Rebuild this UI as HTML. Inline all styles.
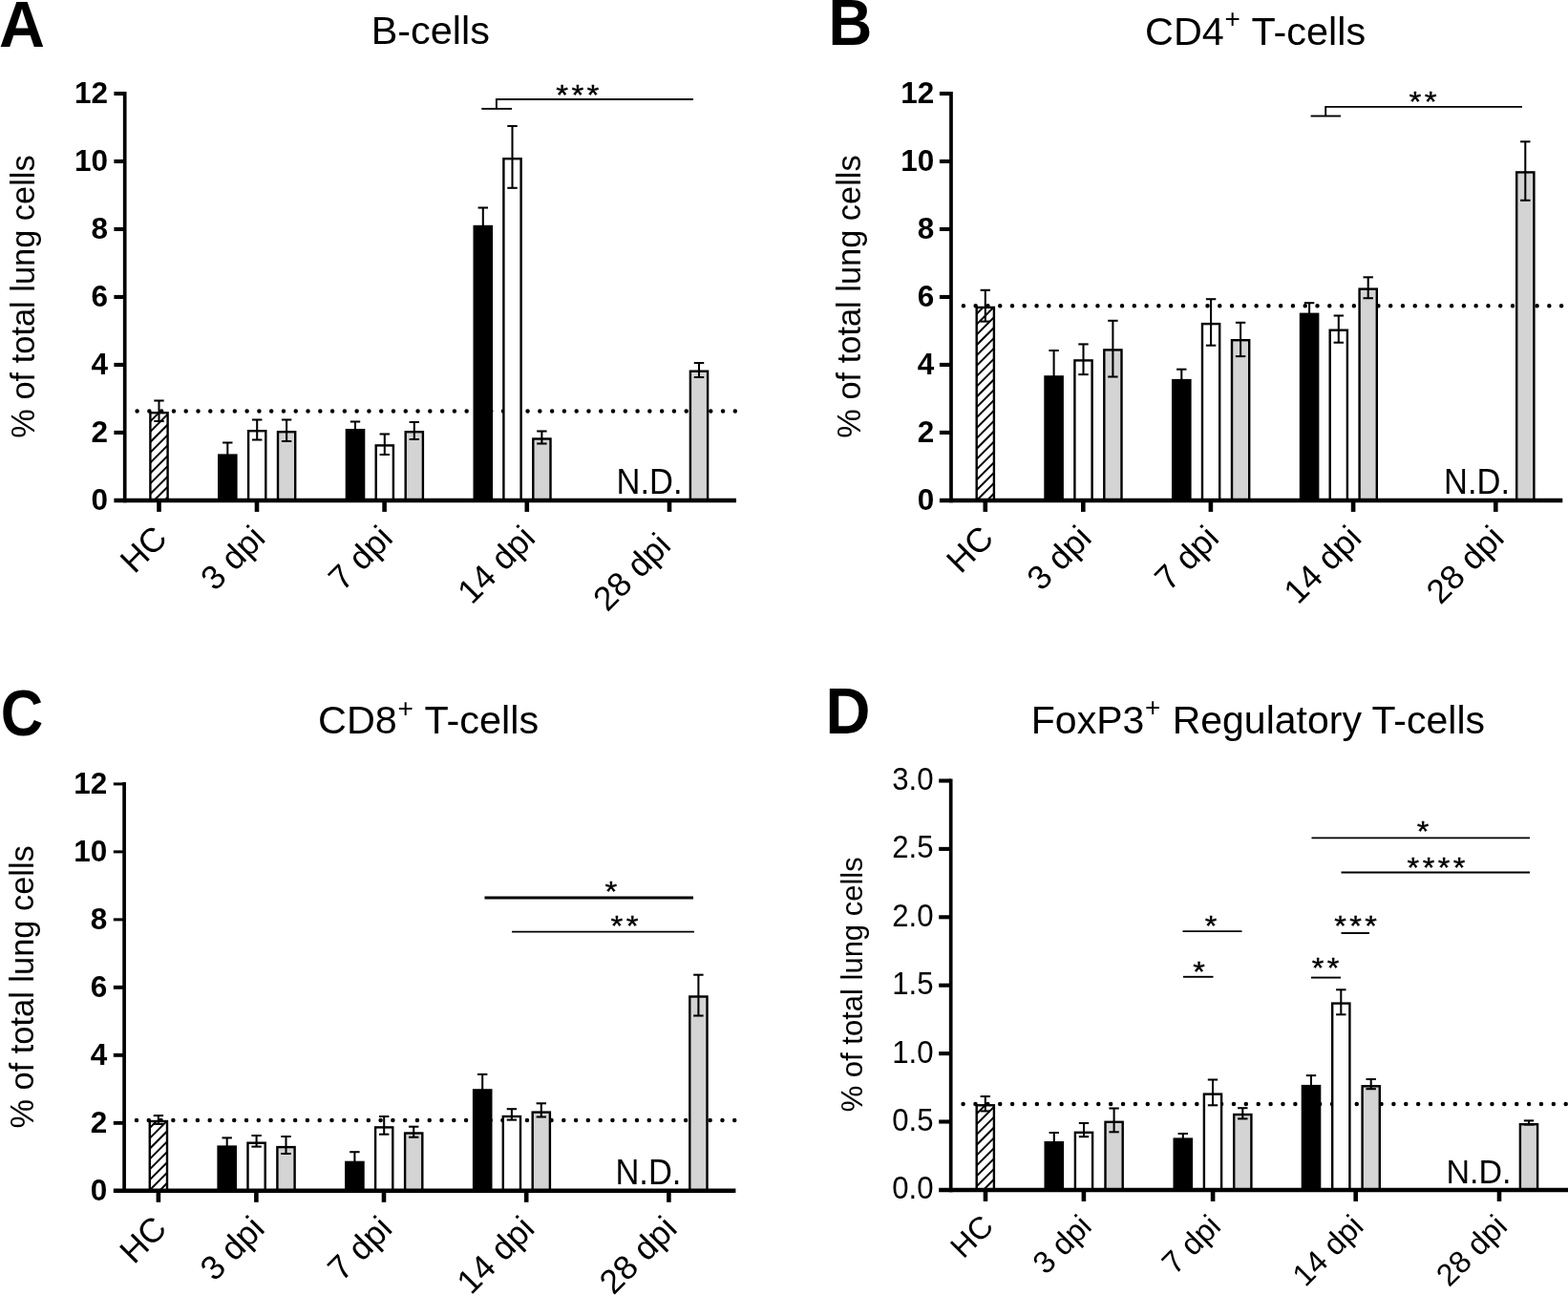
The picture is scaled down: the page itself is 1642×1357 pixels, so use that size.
<!DOCTYPE html>
<html lang="en">
<head>
<meta charset="utf-8">
<title>Lung lymphocyte populations</title>
<style>
html,body{margin:0;padding:0;background:#fff;}
body{width:1642px;height:1357px;overflow:hidden;}
svg{display:block;font-family:"Liberation Sans", sans-serif;fill:#000;}
</style>
</head>
<body>
<svg width="1642" height="1357" viewBox="0 0 1642 1357">
<defs>
<clipPath id="clipA"><rect x="157.4" y="432.2" width="18.2" height="91.7"/></clipPath>
<clipPath id="clipB"><rect x="1022.7" y="321.9" width="18.2" height="202"/></clipPath>
<clipPath id="clipC"><rect x="156.8" y="1174" width="18.2" height="72.8"/></clipPath>
<clipPath id="clipD"><rect x="1022.7" y="1157.3" width="18.2" height="88.6"/></clipPath>
</defs>
<rect x="0" y="0" width="1642" height="1357" fill="#fff"/>
<g id="panel-A">
<line x1="143.6" y1="430.4" x2="771.2" y2="430.4" stroke="#000" stroke-width="4.5" stroke-linecap="round" stroke-dasharray="0 12.78"/>
<rect x="157.4" y="432.2" width="18.2" height="91.7" fill="#fff" stroke="#000" stroke-width="2.4"/>
<path d="M154.2 411.8L178.8 387.2M154.2 422.65L178.8 398.05M154.2 433.5L178.8 408.9M154.2 444.35L178.8 419.75M154.2 455.2L178.8 430.6M154.2 466.05L178.8 441.45M154.2 476.9L178.8 452.3M154.2 487.75L178.8 463.15M154.2 498.6L178.8 474M154.2 509.45L178.8 484.85M154.2 520.3L178.8 495.7M154.2 531.15L178.8 506.55M154.2 542L178.8 517.4M154.2 552.85L178.8 528.25M154.2 563.7L178.8 539.1" clip-path="url(#clipA)" fill="none" stroke="#000" stroke-width="2"/>
<line x1="166.5" y1="419.5" x2="166.5" y2="441" stroke="#000" stroke-width="2.05"/>
<line x1="161.3" y1="419.5" x2="171.7" y2="419.5" stroke="#000" stroke-width="2.05"/>
<line x1="161.3" y1="441" x2="171.7" y2="441" stroke="#000" stroke-width="2.05"/>
<rect x="228" y="475.4" width="20.6" height="48.5" fill="#000"/>
<line x1="238.3" y1="463.5" x2="238.3" y2="476.4" stroke="#000" stroke-width="2.05"/>
<line x1="233.1" y1="463.5" x2="243.5" y2="463.5" stroke="#000" stroke-width="2.05"/>
<rect x="260.1" y="451.2" width="18.2" height="72.7" fill="#fff" stroke="#000" stroke-width="2.4"/>
<line x1="269.2" y1="439.5" x2="269.2" y2="460.5" stroke="#000" stroke-width="2.05"/>
<line x1="264" y1="439.5" x2="274.4" y2="439.5" stroke="#000" stroke-width="2.05"/>
<line x1="264" y1="460.5" x2="274.4" y2="460.5" stroke="#000" stroke-width="2.05"/>
<rect x="291" y="452.2" width="18.2" height="71.7" fill="#d4d4d4" stroke="#000" stroke-width="2.4"/>
<line x1="300.1" y1="439.5" x2="300.1" y2="462" stroke="#000" stroke-width="2.05"/>
<line x1="294.9" y1="439.5" x2="305.3" y2="439.5" stroke="#000" stroke-width="2.05"/>
<line x1="294.9" y1="462" x2="305.3" y2="462" stroke="#000" stroke-width="2.05"/>
<rect x="361.7" y="449" width="20.6" height="74.9" fill="#000"/>
<line x1="372" y1="441.5" x2="372" y2="450" stroke="#000" stroke-width="2.05"/>
<line x1="366.8" y1="441.5" x2="377.2" y2="441.5" stroke="#000" stroke-width="2.05"/>
<rect x="393.7" y="466.4" width="18.2" height="57.5" fill="#fff" stroke="#000" stroke-width="2.4"/>
<line x1="402.8" y1="454.5" x2="402.8" y2="476" stroke="#000" stroke-width="2.05"/>
<line x1="397.6" y1="454.5" x2="408" y2="454.5" stroke="#000" stroke-width="2.05"/>
<line x1="397.6" y1="476" x2="408" y2="476" stroke="#000" stroke-width="2.05"/>
<rect x="424.7" y="452.2" width="18.2" height="71.7" fill="#d4d4d4" stroke="#000" stroke-width="2.4"/>
<line x1="433.8" y1="442" x2="433.8" y2="460" stroke="#000" stroke-width="2.05"/>
<line x1="428.6" y1="442" x2="439" y2="442" stroke="#000" stroke-width="2.05"/>
<line x1="428.6" y1="460" x2="439" y2="460" stroke="#000" stroke-width="2.05"/>
<rect x="495.5" y="235.8" width="20.6" height="288.1" fill="#000"/>
<line x1="505.8" y1="217.5" x2="505.8" y2="236.8" stroke="#000" stroke-width="2.05"/>
<line x1="500.6" y1="217.5" x2="511" y2="217.5" stroke="#000" stroke-width="2.05"/>
<rect x="527.4" y="166.2" width="18.2" height="357.7" fill="#fff" stroke="#000" stroke-width="2.4"/>
<line x1="536.5" y1="132" x2="536.5" y2="196.8" stroke="#000" stroke-width="2.05"/>
<line x1="531.3" y1="132" x2="541.7" y2="132" stroke="#000" stroke-width="2.05"/>
<line x1="531.3" y1="196.8" x2="541.7" y2="196.8" stroke="#000" stroke-width="2.05"/>
<rect x="558.3" y="459.5" width="18.2" height="64.4" fill="#d4d4d4" stroke="#000" stroke-width="2.4"/>
<line x1="567.4" y1="451.5" x2="567.4" y2="464.5" stroke="#000" stroke-width="2.05"/>
<line x1="562.2" y1="451.5" x2="572.6" y2="451.5" stroke="#000" stroke-width="2.05"/>
<line x1="562.2" y1="464.5" x2="572.6" y2="464.5" stroke="#000" stroke-width="2.05"/>
<rect x="722.9" y="388.7" width="18.2" height="135.2" fill="#d4d4d4" stroke="#000" stroke-width="2.4"/>
<line x1="732" y1="380" x2="732" y2="395" stroke="#000" stroke-width="2.05"/>
<line x1="726.8" y1="380" x2="737.2" y2="380" stroke="#000" stroke-width="2.05"/>
<line x1="726.8" y1="395" x2="737.2" y2="395" stroke="#000" stroke-width="2.05"/>
<line x1="130.7" y1="95.95" x2="130.7" y2="526.15" stroke="#000" stroke-width="3.7"/>
<line x1="119.4" y1="523.9" x2="771" y2="523.9" stroke="#000" stroke-width="4.5"/>
<text x="113" y="534.2" font-size="31.5" text-anchor="end" font-weight="bold">0</text>
<line x1="119.4" y1="452.92" x2="130.7" y2="452.92" stroke="#000" stroke-width="4.1"/>
<text x="113" y="463.22" font-size="31.5" text-anchor="end" font-weight="bold">2</text>
<line x1="119.4" y1="381.93" x2="130.7" y2="381.93" stroke="#000" stroke-width="4.1"/>
<text x="113" y="392.23" font-size="31.5" text-anchor="end" font-weight="bold">4</text>
<line x1="119.4" y1="310.95" x2="130.7" y2="310.95" stroke="#000" stroke-width="4.1"/>
<text x="113" y="321.25" font-size="31.5" text-anchor="end" font-weight="bold">6</text>
<line x1="119.4" y1="239.97" x2="130.7" y2="239.97" stroke="#000" stroke-width="4.1"/>
<text x="113" y="250.27" font-size="31.5" text-anchor="end" font-weight="bold">8</text>
<line x1="119.4" y1="168.98" x2="130.7" y2="168.98" stroke="#000" stroke-width="4.1"/>
<text x="113" y="179.28" font-size="31.5" text-anchor="end" font-weight="bold">10</text>
<line x1="119.4" y1="98" x2="130.7" y2="98" stroke="#000" stroke-width="4.1"/>
<text x="113" y="108.3" font-size="31.5" text-anchor="end" font-weight="bold">12</text>
<line x1="166.5" y1="523.9" x2="166.5" y2="535.9" stroke="#000" stroke-width="4.6"/>
<text transform="translate(177 565.5) rotate(-45)" font-size="35.5" text-anchor="end">HC</text>
<line x1="269" y1="523.9" x2="269" y2="535.9" stroke="#000" stroke-width="4.6"/>
<text transform="translate(279.5 565.5) rotate(-45)" font-size="35.5" text-anchor="end">3 dpi</text>
<line x1="402.6" y1="523.9" x2="402.6" y2="535.9" stroke="#000" stroke-width="4.6"/>
<text transform="translate(413.1 565.5) rotate(-45)" font-size="35.5" text-anchor="end">7 dpi</text>
<line x1="551.8" y1="523.9" x2="551.8" y2="535.9" stroke="#000" stroke-width="4.6"/>
<text transform="translate(562.3 565.5) rotate(-45)" font-size="35.5" text-anchor="end">14 dpi</text>
<line x1="701" y1="523.9" x2="701" y2="535.9" stroke="#000" stroke-width="4.6"/>
<text transform="translate(704.4 573.1) rotate(-45)" font-size="35.5" text-anchor="end">28 dpi</text>
<text transform="translate(645.6 517.3) scale(1 1.05)" font-size="34.5">N.D.</text>
<text transform="translate(35.5 310.5) rotate(-90)" font-size="34.4" text-anchor="middle">% of total lung cells</text>
<text x="388.7" y="45.9" font-size="41.4">B-cells</text>
<text transform="translate(-1 49.3) scale(0.977 1)" font-size="68" font-weight="bold">A</text>
<polyline points="726,104 519.9,104 519.9,113.9" fill="none" stroke="#000" stroke-width="1.9"/>
<line x1="504.3" y1="113.9" x2="536" y2="113.9" stroke="#000" stroke-width="1.9"/>
<text transform="translate(606.5 109.2) scale(1 0.9)" font-size="33" text-anchor="middle" letter-spacing="3.4" stroke="#000" stroke-width="0.4">***</text>
</g>
<g id="panel-B">
<line x1="1008.9" y1="320.2" x2="1636.5" y2="320.2" stroke="#000" stroke-width="4.5" stroke-linecap="round" stroke-dasharray="0 12.78"/>
<rect x="1022.7" y="321.9" width="18.2" height="202" fill="#fff" stroke="#000" stroke-width="2.4"/>
<path d="M1019.5 299.4L1044.1 274.8M1019.5 310.25L1044.1 285.65M1019.5 321.1L1044.1 296.5M1019.5 331.95L1044.1 307.35M1019.5 342.8L1044.1 318.2M1019.5 353.65L1044.1 329.05M1019.5 364.5L1044.1 339.9M1019.5 375.35L1044.1 350.75M1019.5 386.2L1044.1 361.6M1019.5 397.05L1044.1 372.45M1019.5 407.9L1044.1 383.3M1019.5 418.75L1044.1 394.15M1019.5 429.6L1044.1 405M1019.5 440.45L1044.1 415.85M1019.5 451.3L1044.1 426.7M1019.5 462.15L1044.1 437.55M1019.5 473L1044.1 448.4M1019.5 483.85L1044.1 459.25M1019.5 494.7L1044.1 470.1M1019.5 505.55L1044.1 480.95M1019.5 516.4L1044.1 491.8M1019.5 527.25L1044.1 502.65M1019.5 538.1L1044.1 513.5M1019.5 548.95L1044.1 524.35M1019.5 559.8L1044.1 535.2" clip-path="url(#clipB)" fill="none" stroke="#000" stroke-width="2"/>
<line x1="1031.8" y1="303.8" x2="1031.8" y2="336.6" stroke="#000" stroke-width="2.05"/>
<line x1="1026.6" y1="303.8" x2="1037" y2="303.8" stroke="#000" stroke-width="2.05"/>
<line x1="1026.6" y1="336.6" x2="1037" y2="336.6" stroke="#000" stroke-width="2.05"/>
<rect x="1093.3" y="393.2" width="20.6" height="130.7" fill="#000"/>
<line x1="1103.6" y1="367" x2="1103.6" y2="394.2" stroke="#000" stroke-width="2.05"/>
<line x1="1098.4" y1="367" x2="1108.8" y2="367" stroke="#000" stroke-width="2.05"/>
<rect x="1125.4" y="377.4" width="18.2" height="146.5" fill="#fff" stroke="#000" stroke-width="2.4"/>
<line x1="1134.5" y1="360.4" x2="1134.5" y2="392.1" stroke="#000" stroke-width="2.05"/>
<line x1="1129.3" y1="360.4" x2="1139.7" y2="360.4" stroke="#000" stroke-width="2.05"/>
<line x1="1129.3" y1="392.1" x2="1139.7" y2="392.1" stroke="#000" stroke-width="2.05"/>
<rect x="1156.3" y="366.4" width="18.2" height="157.5" fill="#d4d4d4" stroke="#000" stroke-width="2.4"/>
<line x1="1165.4" y1="335.8" x2="1165.4" y2="394.5" stroke="#000" stroke-width="2.05"/>
<line x1="1160.2" y1="335.8" x2="1170.6" y2="335.8" stroke="#000" stroke-width="2.05"/>
<line x1="1160.2" y1="394.5" x2="1170.6" y2="394.5" stroke="#000" stroke-width="2.05"/>
<rect x="1227" y="396.9" width="20.6" height="127" fill="#000"/>
<line x1="1237.3" y1="386.7" x2="1237.3" y2="397.9" stroke="#000" stroke-width="2.05"/>
<line x1="1232.1" y1="386.7" x2="1242.5" y2="386.7" stroke="#000" stroke-width="2.05"/>
<rect x="1259" y="339.1" width="18.2" height="184.8" fill="#fff" stroke="#000" stroke-width="2.4"/>
<line x1="1268.1" y1="313.2" x2="1268.1" y2="361.7" stroke="#000" stroke-width="2.05"/>
<line x1="1262.9" y1="313.2" x2="1273.3" y2="313.2" stroke="#000" stroke-width="2.05"/>
<line x1="1262.9" y1="361.7" x2="1273.3" y2="361.7" stroke="#000" stroke-width="2.05"/>
<rect x="1290" y="356.2" width="18.2" height="167.7" fill="#d4d4d4" stroke="#000" stroke-width="2.4"/>
<line x1="1299.1" y1="337.8" x2="1299.1" y2="373.1" stroke="#000" stroke-width="2.05"/>
<line x1="1293.9" y1="337.8" x2="1304.3" y2="337.8" stroke="#000" stroke-width="2.05"/>
<line x1="1293.9" y1="373.1" x2="1304.3" y2="373.1" stroke="#000" stroke-width="2.05"/>
<rect x="1360.8" y="327.6" width="20.6" height="196.3" fill="#000"/>
<line x1="1371.1" y1="317.2" x2="1371.1" y2="328.6" stroke="#000" stroke-width="2.05"/>
<line x1="1365.9" y1="317.2" x2="1376.3" y2="317.2" stroke="#000" stroke-width="2.05"/>
<rect x="1392.7" y="345.7" width="18.2" height="178.2" fill="#fff" stroke="#000" stroke-width="2.4"/>
<line x1="1401.8" y1="330.5" x2="1401.8" y2="358.7" stroke="#000" stroke-width="2.05"/>
<line x1="1396.6" y1="330.5" x2="1407" y2="330.5" stroke="#000" stroke-width="2.05"/>
<line x1="1396.6" y1="358.7" x2="1407" y2="358.7" stroke="#000" stroke-width="2.05"/>
<rect x="1423.6" y="302.6" width="18.2" height="221.3" fill="#d4d4d4" stroke="#000" stroke-width="2.4"/>
<line x1="1432.7" y1="290.3" x2="1432.7" y2="312.2" stroke="#000" stroke-width="2.05"/>
<line x1="1427.5" y1="290.3" x2="1437.9" y2="290.3" stroke="#000" stroke-width="2.05"/>
<line x1="1427.5" y1="312.2" x2="1437.9" y2="312.2" stroke="#000" stroke-width="2.05"/>
<rect x="1588.2" y="180.4" width="18.2" height="343.5" fill="#d4d4d4" stroke="#000" stroke-width="2.4"/>
<line x1="1597.3" y1="148.3" x2="1597.3" y2="209.8" stroke="#000" stroke-width="2.05"/>
<line x1="1592.1" y1="148.3" x2="1602.5" y2="148.3" stroke="#000" stroke-width="2.05"/>
<line x1="1592.1" y1="209.8" x2="1602.5" y2="209.8" stroke="#000" stroke-width="2.05"/>
<line x1="996" y1="95.95" x2="996" y2="526.15" stroke="#000" stroke-width="3.7"/>
<line x1="983.9" y1="523.9" x2="1636.3" y2="523.9" stroke="#000" stroke-width="4.5"/>
<text x="978.3" y="534.2" font-size="31.5" text-anchor="end" font-weight="bold">0</text>
<line x1="983.9" y1="452.92" x2="996" y2="452.92" stroke="#000" stroke-width="4.1"/>
<text x="978.3" y="463.22" font-size="31.5" text-anchor="end" font-weight="bold">2</text>
<line x1="983.9" y1="381.93" x2="996" y2="381.93" stroke="#000" stroke-width="4.1"/>
<text x="978.3" y="392.23" font-size="31.5" text-anchor="end" font-weight="bold">4</text>
<line x1="983.9" y1="310.95" x2="996" y2="310.95" stroke="#000" stroke-width="4.1"/>
<text x="978.3" y="321.25" font-size="31.5" text-anchor="end" font-weight="bold">6</text>
<line x1="983.9" y1="239.97" x2="996" y2="239.97" stroke="#000" stroke-width="4.1"/>
<text x="978.3" y="250.27" font-size="31.5" text-anchor="end" font-weight="bold">8</text>
<line x1="983.9" y1="168.98" x2="996" y2="168.98" stroke="#000" stroke-width="4.1"/>
<text x="978.3" y="179.28" font-size="31.5" text-anchor="end" font-weight="bold">10</text>
<line x1="983.9" y1="98" x2="996" y2="98" stroke="#000" stroke-width="4.1"/>
<text x="978.3" y="108.3" font-size="31.5" text-anchor="end" font-weight="bold">12</text>
<line x1="1031.8" y1="523.9" x2="1031.8" y2="535.9" stroke="#000" stroke-width="4.6"/>
<text transform="translate(1042.3 565.5) rotate(-45)" font-size="35.5" text-anchor="end">HC</text>
<line x1="1134.3" y1="523.9" x2="1134.3" y2="535.9" stroke="#000" stroke-width="4.6"/>
<text transform="translate(1144.8 565.5) rotate(-45)" font-size="35.5" text-anchor="end">3 dpi</text>
<line x1="1267.9" y1="523.9" x2="1267.9" y2="535.9" stroke="#000" stroke-width="4.6"/>
<text transform="translate(1278.4 565.5) rotate(-45)" font-size="35.5" text-anchor="end">7 dpi</text>
<line x1="1417.1" y1="523.9" x2="1417.1" y2="535.9" stroke="#000" stroke-width="4.6"/>
<text transform="translate(1427.6 565.5) rotate(-45)" font-size="35.5" text-anchor="end">14 dpi</text>
<line x1="1566.3" y1="523.9" x2="1566.3" y2="535.9" stroke="#000" stroke-width="4.6"/>
<text transform="translate(1576.8 565.5) rotate(-45)" font-size="35.5" text-anchor="end">28 dpi</text>
<text transform="translate(1512.1 517.3) scale(1 1.05)" font-size="34.5">N.D.</text>
<text transform="translate(900.8 310.5) rotate(-90)" font-size="34.4" text-anchor="middle">% of total lung cells</text>
<text x="1199" y="46.7" font-size="41.4">CD4<tspan font-size="28" dy="-17.5" dx="0.8">+</tspan><tspan dy="17.5" dx="0.8"> </tspan>T-cells</text>
<text transform="translate(867.5 47) scale(0.933 1)" font-size="68" font-weight="bold">B</text>
<polyline points="1594,111.9 1388.2,111.9 1388.2,121.5" fill="none" stroke="#000" stroke-width="1.9"/>
<line x1="1372.6" y1="121.5" x2="1404" y2="121.5" stroke="#000" stroke-width="1.9"/>
<text transform="translate(1491.7 115.9) scale(1 0.9)" font-size="33" text-anchor="middle" letter-spacing="3.4" stroke="#000" stroke-width="0.4">**</text>
</g>
<g id="panel-C">
<line x1="143" y1="1173.1" x2="770.6" y2="1173.1" stroke="#000" stroke-width="4.5" stroke-linecap="round" stroke-dasharray="0 12.78"/>
<rect x="156.8" y="1174" width="18.2" height="72.8" fill="#fff" stroke="#000" stroke-width="2.4"/>
<path d="M153.6 1151.65L178.2 1127.05M153.6 1162.5L178.2 1137.9M153.6 1173.35L178.2 1148.75M153.6 1184.2L178.2 1159.6M153.6 1195.05L178.2 1170.45M153.6 1205.9L178.2 1181.3M153.6 1216.75L178.2 1192.15M153.6 1227.6L178.2 1203M153.6 1238.45L178.2 1213.85M153.6 1249.3L178.2 1224.7M153.6 1260.15L178.2 1235.55M153.6 1271L178.2 1246.4M153.6 1281.85L178.2 1257.25M153.6 1292.7L178.2 1268.1" clip-path="url(#clipC)" fill="none" stroke="#000" stroke-width="2"/>
<line x1="165.9" y1="1168.1" x2="165.9" y2="1176.9" stroke="#000" stroke-width="2.05"/>
<line x1="160.7" y1="1168.1" x2="171.1" y2="1168.1" stroke="#000" stroke-width="2.05"/>
<line x1="160.7" y1="1176.9" x2="171.1" y2="1176.9" stroke="#000" stroke-width="2.05"/>
<rect x="227.4" y="1199.4" width="20.6" height="47.4" fill="#000"/>
<line x1="237.7" y1="1191.4" x2="237.7" y2="1200.4" stroke="#000" stroke-width="2.05"/>
<line x1="232.5" y1="1191.4" x2="242.9" y2="1191.4" stroke="#000" stroke-width="2.05"/>
<rect x="259.5" y="1196.7" width="18.2" height="50.1" fill="#fff" stroke="#000" stroke-width="2.4"/>
<line x1="268.6" y1="1189" x2="268.6" y2="1200.6" stroke="#000" stroke-width="2.05"/>
<line x1="263.4" y1="1189" x2="273.8" y2="1189" stroke="#000" stroke-width="2.05"/>
<line x1="263.4" y1="1200.6" x2="273.8" y2="1200.6" stroke="#000" stroke-width="2.05"/>
<rect x="290.4" y="1201.1" width="18.2" height="45.7" fill="#d4d4d4" stroke="#000" stroke-width="2.4"/>
<line x1="299.5" y1="1190" x2="299.5" y2="1208" stroke="#000" stroke-width="2.05"/>
<line x1="294.3" y1="1190" x2="304.7" y2="1190" stroke="#000" stroke-width="2.05"/>
<line x1="294.3" y1="1208" x2="304.7" y2="1208" stroke="#000" stroke-width="2.05"/>
<rect x="361.1" y="1215.7" width="20.6" height="31.1" fill="#000"/>
<line x1="371.4" y1="1206.2" x2="371.4" y2="1216.7" stroke="#000" stroke-width="2.05"/>
<line x1="366.2" y1="1206.2" x2="376.6" y2="1206.2" stroke="#000" stroke-width="2.05"/>
<rect x="393.1" y="1180.4" width="18.2" height="66.4" fill="#fff" stroke="#000" stroke-width="2.4"/>
<line x1="402.2" y1="1169" x2="402.2" y2="1187.7" stroke="#000" stroke-width="2.05"/>
<line x1="397" y1="1169" x2="407.4" y2="1169" stroke="#000" stroke-width="2.05"/>
<line x1="397" y1="1187.7" x2="407.4" y2="1187.7" stroke="#000" stroke-width="2.05"/>
<rect x="424.1" y="1186.5" width="18.2" height="60.3" fill="#d4d4d4" stroke="#000" stroke-width="2.4"/>
<line x1="433.2" y1="1179.7" x2="433.2" y2="1190.7" stroke="#000" stroke-width="2.05"/>
<line x1="428" y1="1179.7" x2="438.4" y2="1179.7" stroke="#000" stroke-width="2.05"/>
<line x1="428" y1="1190.7" x2="438.4" y2="1190.7" stroke="#000" stroke-width="2.05"/>
<rect x="494.9" y="1140.2" width="20.6" height="106.6" fill="#000"/>
<line x1="505.2" y1="1124.9" x2="505.2" y2="1141.2" stroke="#000" stroke-width="2.05"/>
<line x1="500" y1="1124.9" x2="510.4" y2="1124.9" stroke="#000" stroke-width="2.05"/>
<rect x="526.8" y="1169" width="18.2" height="77.8" fill="#fff" stroke="#000" stroke-width="2.4"/>
<line x1="535.9" y1="1161.2" x2="535.9" y2="1172.6" stroke="#000" stroke-width="2.05"/>
<line x1="530.7" y1="1161.2" x2="541.1" y2="1161.2" stroke="#000" stroke-width="2.05"/>
<line x1="530.7" y1="1172.6" x2="541.1" y2="1172.6" stroke="#000" stroke-width="2.05"/>
<rect x="557.7" y="1164.6" width="18.2" height="82.2" fill="#d4d4d4" stroke="#000" stroke-width="2.4"/>
<line x1="566.8" y1="1155.3" x2="566.8" y2="1169.5" stroke="#000" stroke-width="2.05"/>
<line x1="561.6" y1="1155.3" x2="572" y2="1155.3" stroke="#000" stroke-width="2.05"/>
<line x1="561.6" y1="1169.5" x2="572" y2="1169.5" stroke="#000" stroke-width="2.05"/>
<rect x="722.3" y="1043.5" width="18.2" height="203.3" fill="#d4d4d4" stroke="#000" stroke-width="2.4"/>
<line x1="731.4" y1="1020.7" x2="731.4" y2="1063.5" stroke="#000" stroke-width="2.05"/>
<line x1="726.2" y1="1020.7" x2="736.6" y2="1020.7" stroke="#000" stroke-width="2.05"/>
<line x1="726.2" y1="1063.5" x2="736.6" y2="1063.5" stroke="#000" stroke-width="2.05"/>
<line x1="130.1" y1="818.95" x2="130.1" y2="1249.05" stroke="#000" stroke-width="3.7"/>
<line x1="118.8" y1="1246.8" x2="770.4" y2="1246.8" stroke="#000" stroke-width="4.5"/>
<text x="112.4" y="1257.1" font-size="31.5" text-anchor="end" font-weight="bold">0</text>
<line x1="118.8" y1="1175.82" x2="130.1" y2="1175.82" stroke="#000" stroke-width="3.9"/>
<text x="112.4" y="1186.12" font-size="31.5" text-anchor="end" font-weight="bold">2</text>
<line x1="118.8" y1="1104.83" x2="130.1" y2="1104.83" stroke="#000" stroke-width="3.9"/>
<text x="112.4" y="1115.13" font-size="31.5" text-anchor="end" font-weight="bold">4</text>
<line x1="118.8" y1="1033.85" x2="130.1" y2="1033.85" stroke="#000" stroke-width="3.9"/>
<text x="112.4" y="1044.15" font-size="31.5" text-anchor="end" font-weight="bold">6</text>
<line x1="118.8" y1="962.87" x2="130.1" y2="962.87" stroke="#000" stroke-width="3"/>
<text x="112.4" y="973.17" font-size="31.5" text-anchor="end" font-weight="bold">8</text>
<line x1="118.8" y1="891.88" x2="130.1" y2="891.88" stroke="#000" stroke-width="3"/>
<text x="112.4" y="902.18" font-size="31.5" text-anchor="end" font-weight="bold">10</text>
<line x1="118.8" y1="820.9" x2="130.1" y2="820.9" stroke="#000" stroke-width="3"/>
<text x="112.4" y="831.2" font-size="31.5" text-anchor="end" font-weight="bold">12</text>
<line x1="165.9" y1="1246.8" x2="165.9" y2="1258.8" stroke="#000" stroke-width="4.6"/>
<text transform="translate(176.4 1288.4) rotate(-45)" font-size="35.5" text-anchor="end">HC</text>
<line x1="268.4" y1="1246.8" x2="268.4" y2="1258.8" stroke="#000" stroke-width="4.6"/>
<text transform="translate(278.9 1288.4) rotate(-45)" font-size="35.5" text-anchor="end">3 dpi</text>
<line x1="402" y1="1246.8" x2="402" y2="1258.8" stroke="#000" stroke-width="4.6"/>
<text transform="translate(412.5 1288.4) rotate(-45)" font-size="35.5" text-anchor="end">7 dpi</text>
<line x1="551.2" y1="1246.8" x2="551.2" y2="1258.8" stroke="#000" stroke-width="4.6"/>
<text transform="translate(561.7 1288.4) rotate(-45)" font-size="35.5" text-anchor="end">14 dpi</text>
<line x1="700.4" y1="1246.8" x2="700.4" y2="1258.8" stroke="#000" stroke-width="4.6"/>
<text transform="translate(710.9 1288.4) rotate(-45)" font-size="35.5" text-anchor="end">28 dpi</text>
<text transform="translate(644.4 1240.2) scale(1 1.05)" font-size="34.5">N.D.</text>
<text transform="translate(34.9 1033.4) rotate(-90)" font-size="34.4" text-anchor="middle">% of total lung cells</text>
<text x="333" y="768.4" font-size="41.4">CD8<tspan font-size="28" dy="-17.5" dx="0.8">+</tspan><tspan dy="17.5" dx="0.8"> </tspan>T-cells</text>
<text transform="translate(0.7 769.6) scale(0.906 1)" font-size="68" font-weight="bold">C</text>
<line x1="507.5" y1="940" x2="726" y2="940" stroke="#000" stroke-width="2.8"/>
<text transform="translate(641.7 942.5) scale(1 0.9)" font-size="33" text-anchor="middle" letter-spacing="3.4" stroke="#000" stroke-width="0.4">*</text>
<line x1="536" y1="975.6" x2="727" y2="975.6" stroke="#000" stroke-width="1.9"/>
<text transform="translate(655.7 978.5) scale(1 0.9)" font-size="33" text-anchor="middle" letter-spacing="3.4" stroke="#000" stroke-width="0.4">**</text>
</g>
<g id="panel-D">
<line x1="1008.6" y1="1156" x2="1645" y2="1156" stroke="#000" stroke-width="4.5" stroke-linecap="round" stroke-dasharray="0 12.88"/>
<rect x="1022.7" y="1157.3" width="18.2" height="88.6" fill="#fff" stroke="#000" stroke-width="2.4"/>
<path d="M1019.5 1136.9L1044.1 1112.3M1019.5 1147.75L1044.1 1123.15M1019.5 1158.6L1044.1 1134M1019.5 1169.45L1044.1 1144.85M1019.5 1180.3L1044.1 1155.7M1019.5 1191.15L1044.1 1166.55M1019.5 1202L1044.1 1177.4M1019.5 1212.85L1044.1 1188.25M1019.5 1223.7L1044.1 1199.1M1019.5 1234.55L1044.1 1209.95M1019.5 1245.4L1044.1 1220.8M1019.5 1256.25L1044.1 1231.65M1019.5 1267.1L1044.1 1242.5M1019.5 1277.95L1044.1 1253.35M1019.5 1288.8L1044.1 1264.2" clip-path="url(#clipD)" fill="none" stroke="#000" stroke-width="2"/>
<line x1="1031.8" y1="1148" x2="1031.8" y2="1163.4" stroke="#000" stroke-width="2.05"/>
<line x1="1026.6" y1="1148" x2="1037" y2="1148" stroke="#000" stroke-width="2.05"/>
<line x1="1026.6" y1="1163.4" x2="1037" y2="1163.4" stroke="#000" stroke-width="2.05"/>
<rect x="1093.5" y="1195" width="20.6" height="50.9" fill="#000"/>
<line x1="1103.8" y1="1186" x2="1103.8" y2="1196" stroke="#000" stroke-width="2.05"/>
<line x1="1098.6" y1="1186" x2="1109" y2="1186" stroke="#000" stroke-width="2.05"/>
<rect x="1125.9" y="1185.8" width="18.2" height="60.1" fill="#fff" stroke="#000" stroke-width="2.4"/>
<line x1="1135" y1="1176" x2="1135" y2="1190.2" stroke="#000" stroke-width="2.05"/>
<line x1="1129.8" y1="1176" x2="1140.2" y2="1176" stroke="#000" stroke-width="2.05"/>
<line x1="1129.8" y1="1190.2" x2="1140.2" y2="1190.2" stroke="#000" stroke-width="2.05"/>
<rect x="1157.5" y="1174.8" width="18.2" height="71.1" fill="#d4d4d4" stroke="#000" stroke-width="2.4"/>
<line x1="1166.6" y1="1160.5" x2="1166.6" y2="1185.3" stroke="#000" stroke-width="2.05"/>
<line x1="1161.4" y1="1160.5" x2="1171.8" y2="1160.5" stroke="#000" stroke-width="2.05"/>
<line x1="1161.4" y1="1185.3" x2="1171.8" y2="1185.3" stroke="#000" stroke-width="2.05"/>
<rect x="1228.5" y="1191.4" width="20.6" height="54.5" fill="#000"/>
<line x1="1238.8" y1="1187" x2="1238.8" y2="1192.4" stroke="#000" stroke-width="2.05"/>
<line x1="1233.6" y1="1187" x2="1244" y2="1187" stroke="#000" stroke-width="2.05"/>
<rect x="1260.9" y="1145.6" width="18.2" height="100.3" fill="#fff" stroke="#000" stroke-width="2.4"/>
<line x1="1270" y1="1130.5" x2="1270" y2="1157.3" stroke="#000" stroke-width="2.05"/>
<line x1="1264.8" y1="1130.5" x2="1275.2" y2="1130.5" stroke="#000" stroke-width="2.05"/>
<line x1="1264.8" y1="1157.3" x2="1275.2" y2="1157.3" stroke="#000" stroke-width="2.05"/>
<rect x="1292.2" y="1167" width="18.2" height="78.9" fill="#d4d4d4" stroke="#000" stroke-width="2.4"/>
<line x1="1301.3" y1="1160.2" x2="1301.3" y2="1171.4" stroke="#000" stroke-width="2.05"/>
<line x1="1296.1" y1="1160.2" x2="1306.5" y2="1160.2" stroke="#000" stroke-width="2.05"/>
<line x1="1296.1" y1="1171.4" x2="1306.5" y2="1171.4" stroke="#000" stroke-width="2.05"/>
<rect x="1362.7" y="1135.9" width="20.6" height="110" fill="#000"/>
<line x1="1373" y1="1126.1" x2="1373" y2="1136.9" stroke="#000" stroke-width="2.05"/>
<line x1="1367.8" y1="1126.1" x2="1378.2" y2="1126.1" stroke="#000" stroke-width="2.05"/>
<rect x="1395.2" y="1050.6" width="18.2" height="195.3" fill="#fff" stroke="#000" stroke-width="2.4"/>
<line x1="1404.3" y1="1036.3" x2="1404.3" y2="1062.3" stroke="#000" stroke-width="2.05"/>
<line x1="1399.1" y1="1036.3" x2="1409.5" y2="1036.3" stroke="#000" stroke-width="2.05"/>
<line x1="1399.1" y1="1062.3" x2="1409.5" y2="1062.3" stroke="#000" stroke-width="2.05"/>
<rect x="1426.6" y="1137.3" width="18.2" height="108.6" fill="#d4d4d4" stroke="#000" stroke-width="2.4"/>
<line x1="1435.7" y1="1130" x2="1435.7" y2="1140.2" stroke="#000" stroke-width="2.05"/>
<line x1="1430.5" y1="1130" x2="1440.9" y2="1130" stroke="#000" stroke-width="2.05"/>
<line x1="1430.5" y1="1140.2" x2="1440.9" y2="1140.2" stroke="#000" stroke-width="2.05"/>
<rect x="1591.9" y="1177.2" width="18.2" height="68.7" fill="#d4d4d4" stroke="#000" stroke-width="2.4"/>
<line x1="1601" y1="1173.4" x2="1601" y2="1177.5" stroke="#000" stroke-width="2.05"/>
<line x1="1595.8" y1="1173.4" x2="1606.2" y2="1173.4" stroke="#000" stroke-width="2.05"/>
<line x1="1595.8" y1="1177.5" x2="1606.2" y2="1177.5" stroke="#000" stroke-width="2.05"/>
<line x1="995.7" y1="815.45" x2="995.7" y2="1248.15" stroke="#000" stroke-width="3.7"/>
<line x1="983.2" y1="1245.9" x2="1642" y2="1245.9" stroke="#000" stroke-width="4.5"/>
<text transform="translate(977.5 1255.4) scale(1 1.09)" font-size="31.2" text-anchor="end">0.0</text>
<line x1="983.2" y1="1174.5" x2="995.7" y2="1174.5" stroke="#000" stroke-width="4.1"/>
<text transform="translate(977.5 1184) scale(1 1.09)" font-size="31.2" text-anchor="end">0.5</text>
<line x1="983.2" y1="1103.1" x2="995.7" y2="1103.1" stroke="#000" stroke-width="4.1"/>
<text transform="translate(977.5 1112.6) scale(1 1.09)" font-size="31.2" text-anchor="end">1.0</text>
<line x1="983.2" y1="1031.7" x2="995.7" y2="1031.7" stroke="#000" stroke-width="4.1"/>
<text transform="translate(977.5 1041.2) scale(1 1.09)" font-size="31.2" text-anchor="end">1.5</text>
<line x1="983.2" y1="960.3" x2="995.7" y2="960.3" stroke="#000" stroke-width="4.1"/>
<text transform="translate(977.5 969.8) scale(1 1.09)" font-size="31.2" text-anchor="end">2.0</text>
<line x1="983.2" y1="888.9" x2="995.7" y2="888.9" stroke="#000" stroke-width="4.1"/>
<text transform="translate(977.5 898.4) scale(1 1.09)" font-size="31.2" text-anchor="end">2.5</text>
<line x1="983.2" y1="817.5" x2="995.7" y2="817.5" stroke="#000" stroke-width="4.1"/>
<text transform="translate(977.5 827) scale(1 1.09)" font-size="31.2" text-anchor="end">3.0</text>
<line x1="1032" y1="1245.9" x2="1032" y2="1257.9" stroke="#000" stroke-width="4.6"/>
<text transform="translate(1042 1285.9) rotate(-45)" font-size="32.5" text-anchor="end">HC</text>
<line x1="1134.9" y1="1245.9" x2="1134.9" y2="1257.9" stroke="#000" stroke-width="4.6"/>
<text transform="translate(1144.9 1285.9) rotate(-45)" font-size="32.5" text-anchor="end">3 dpi</text>
<line x1="1270.1" y1="1245.9" x2="1270.1" y2="1257.9" stroke="#000" stroke-width="4.6"/>
<text transform="translate(1280.1 1285.9) rotate(-45)" font-size="32.5" text-anchor="end">7 dpi</text>
<line x1="1419.7" y1="1245.9" x2="1419.7" y2="1257.9" stroke="#000" stroke-width="4.6"/>
<text transform="translate(1429.7 1285.9) rotate(-45)" font-size="32.5" text-anchor="end">14 dpi</text>
<line x1="1570" y1="1245.9" x2="1570" y2="1257.9" stroke="#000" stroke-width="4.6"/>
<text transform="translate(1580 1285.9) rotate(-45)" font-size="32.5" text-anchor="end">28 dpi</text>
<text transform="translate(1514.5 1239.2) scale(1 1.05)" font-size="34">N.D.</text>
<text transform="translate(902.5 1030.8) rotate(-90)" font-size="31" text-anchor="middle">% of total lung cells</text>
<text x="1079.8" y="767.6" font-size="41">FoxP3<tspan font-size="28" dy="-17.5" dx="0.8">+</tspan><tspan dy="17.5" dx="0.8"> </tspan>Regulatory T-cells</text>
<text transform="translate(864.5 768) scale(0.957 1)" font-size="68" font-weight="bold">D</text>
<line x1="1373.5" y1="877.4" x2="1602" y2="877.4" stroke="#000" stroke-width="1.9"/>
<text transform="translate(1491.7 879.9) scale(1 0.9)" font-size="32.5" text-anchor="middle" letter-spacing="3.4" stroke="#000" stroke-width="0.4">*</text>
<line x1="1404.5" y1="913.5" x2="1602" y2="913.5" stroke="#000" stroke-width="1.9"/>
<text transform="translate(1505.7 918.4) scale(1 0.9)" font-size="32.5" text-anchor="middle" letter-spacing="3.4" stroke="#000" stroke-width="0.4">****</text>
<line x1="1238.5" y1="975.1" x2="1300.5" y2="975.1" stroke="#000" stroke-width="1.9"/>
<text transform="translate(1269.7 978.9) scale(1 0.9)" font-size="32.5" text-anchor="middle" letter-spacing="3.4" stroke="#000" stroke-width="0.4">*</text>
<line x1="1404.5" y1="977" x2="1434" y2="977" stroke="#000" stroke-width="1.9"/>
<text transform="translate(1421.2 978.9) scale(1 0.9)" font-size="32.5" text-anchor="middle" letter-spacing="3.4" stroke="#000" stroke-width="0.4">***</text>
<line x1="1239" y1="1022.8" x2="1270.5" y2="1022.8" stroke="#000" stroke-width="1.9"/>
<text transform="translate(1257.2 1027.4) scale(1 0.9)" font-size="32.5" text-anchor="middle" letter-spacing="3.4" stroke="#000" stroke-width="0.4">*</text>
<line x1="1373" y1="1023.6" x2="1404" y2="1023.6" stroke="#000" stroke-width="1.9"/>
<text transform="translate(1389.7 1023.4) scale(1 0.9)" font-size="32.5" text-anchor="middle" letter-spacing="3.4" stroke="#000" stroke-width="0.4">**</text>
</g>
</svg>
</body>
</html>
